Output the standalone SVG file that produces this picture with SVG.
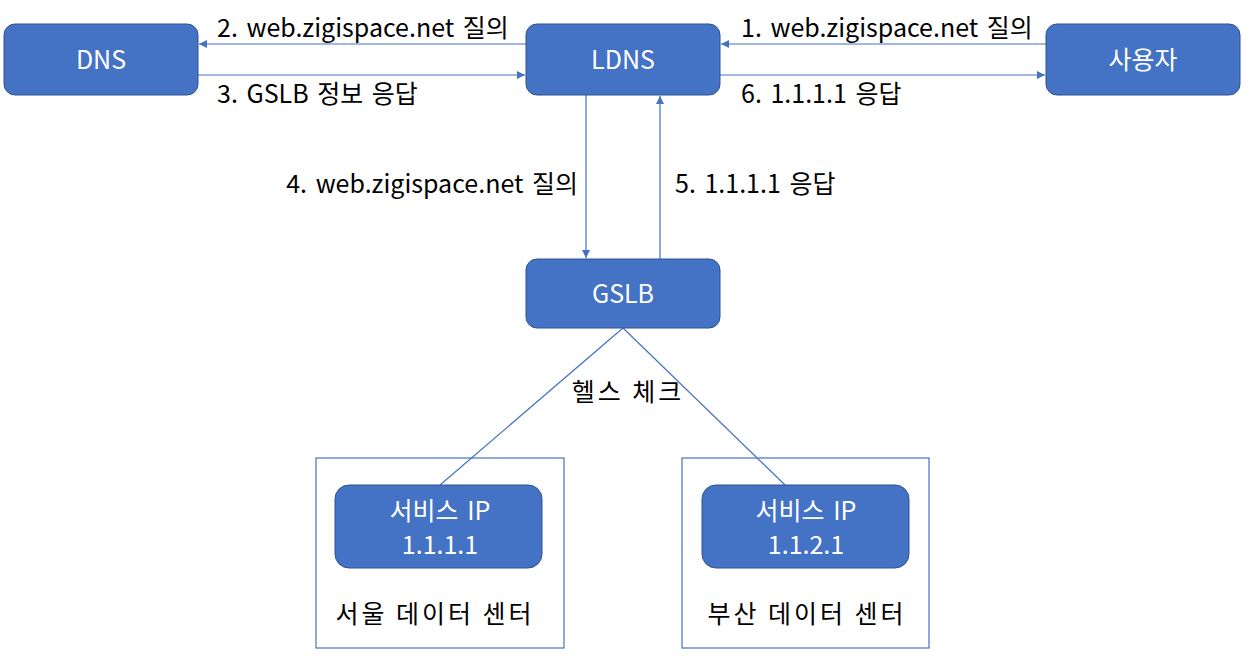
<svg xmlns="http://www.w3.org/2000/svg" width="1252" height="660" viewBox="0 0 1252 660">
<style>
.node{fill:#4472C4;stroke:#2F528F;stroke-width:1}
.nt{fill:#fff;font-family:"Noto Sans CJK KR","Noto Sans",sans-serif;font-size:25px;text-anchor:middle;word-spacing:3px}
.lb{fill:#000;font-family:"Noto Sans CJK KR","Noto Sans",sans-serif;font-size:25px;word-spacing:3px}
.ko{letter-spacing:3px;word-spacing:0px}
.cn{stroke:#4472C4;stroke-width:1.2;fill:none}
.box{fill:none;stroke:#4472C4;stroke-width:1.2}
</style>
<defs>
<marker id="ah" viewBox="0 0 10 10" refX="10" refY="5" markerWidth="8" markerHeight="8" markerUnits="userSpaceOnUse" orient="auto">
<path d="M0,0 L10,5 L0,10 z" fill="#4472C4"/>
</marker>
</defs>
<rect width="1252" height="660" fill="#fff"/>
<g id="seoul-dc">
<rect class="box" x="316" y="458" width="248" height="190"/>
<text class="lb ko" x="435" y="623" text-anchor="middle">서울 데이터 센터</text>
</g>
<g id="busan-dc">
<rect class="box" x="682" y="458" width="247" height="190"/>
<text class="lb ko" x="807" y="623" text-anchor="middle">부산 데이터 센터</text>
</g>
<g id="connectors">
<line class="cn" x1="526" y1="44" x2="199" y2="44" marker-end="url(#ah)"/>
<line class="cn" x1="198" y1="75" x2="525" y2="75" marker-end="url(#ah)"/>
<line class="cn" x1="1046" y1="44" x2="721" y2="44" marker-end="url(#ah)"/>
<line class="cn" x1="720" y1="75" x2="1045" y2="75" marker-end="url(#ah)"/>
<line class="cn" x1="586" y1="95" x2="586" y2="258" marker-end="url(#ah)"/>
<line class="cn" x1="660" y1="259" x2="660" y2="96" marker-end="url(#ah)"/>
<line class="cn" x1="623" y1="328" x2="440" y2="485"/>
<line class="cn" x1="623" y1="328" x2="785" y2="485"/>
<text class="lb" x="217" y="37">2. web.zigispace.net 질의</text>
<text class="lb" x="217" y="103">3. GSLB 정보 응답</text>
<text class="lb" x="741" y="37">1. web.zigispace.net 질의</text>
<text class="lb" x="741" y="103">6. 1.1.1.1 응답</text>
<text class="lb" x="578" y="193" text-anchor="end">4. web.zigispace.net 질의</text>
<text class="lb" x="675" y="193">5. 1.1.1.1 응답</text>
<text class="lb ko" x="628" y="401" text-anchor="middle">헬스 체크</text>
</g>
<g id="dns">
<rect class="node" x="4" y="24" width="194" height="71" rx="11"/>
<text class="nt" x="101" y="69">DNS</text>
</g>
<g id="ldns">
<rect class="node" x="526" y="24" width="194" height="71" rx="11"/>
<text class="nt" x="623" y="69">LDNS</text>
</g>
<g id="user">
<rect class="node" x="1046" y="24" width="194" height="71" rx="11"/>
<text class="nt" x="1143" y="69">사용자</text>
</g>
<g id="gslb">
<rect class="node" x="526" y="259" width="194" height="69" rx="11"/>
<text class="nt" x="623" y="303">GSLB</text>
</g>
<g id="svc-seoul">
<rect class="node" x="335" y="485" width="207" height="83" rx="14"/>
<text class="nt" x="440" y="520">서비스 IP</text>
<text class="nt" x="440" y="554">1.1.1.1</text>
</g>
<g id="svc-busan">
<rect class="node" x="702" y="485" width="207" height="83" rx="14"/>
<text class="nt" x="806" y="520">서비스 IP</text>
<text class="nt" x="806" y="554">1.1.2.1</text>
</g>
</svg>
